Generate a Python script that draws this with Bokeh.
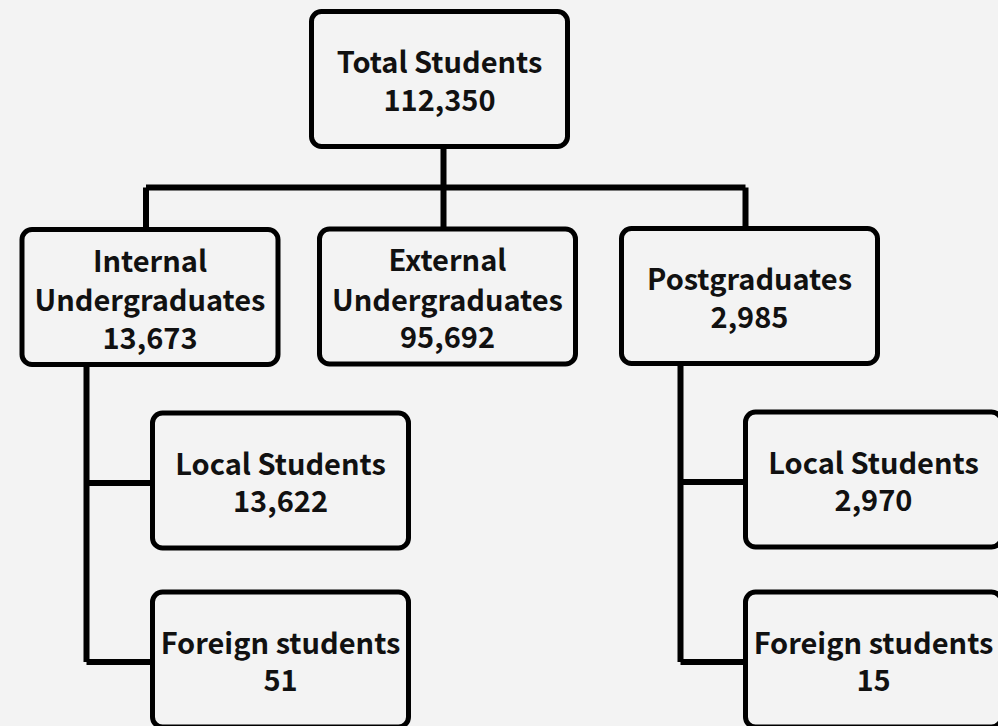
from bokeh.plotting import figure
from bokeh.models import Range1d, ColumnDataSource, GlobalInlineStyleSheet
from bokeh.core.properties import value
from bokeh.embed import file_html
from bokeh.resources import INLINE

# ---------------- data ----------------
node_label_lines = [
    ["Total Students"],
    ["Internal", "Undergraduates"],
    ["External", "Undergraduates"],
    ["Postgraduates"],
    ["Local Students"],
    ["Foreign students"],
    ["Local Students"],
    ["Foreign students"],
]
node_values = [112350, 13673, 95692, 2985, 13622, 51, 2970, 15]
node_parents = [None, 0, 0, 0, 1, 1, 3, 3]

# ---------------- layout (screen px) ----------------
BG = "#f3f3f3"
W, H = 998, 726
BOX_W, BOX_H = 256, 135
node_cx = [439, 149.5, 447, 749, 280, 280, 873, 873]
node_cy = [78.5, 296.5, 296, 295.5, 480, 659, 479, 659]
bus_y = 187
conn_dx = -4          # connector offset for top->level-1 links
side_trunk_x = {1: 86, 3: 680}
branch_dy = 2.5
FONT = "Noto Sans CJK JP"
FS = "29px"
LINE_STEP = 39.5
TEXT_OFF = 1

p = figure(width=W, height=H, output_backend="svg", toolbar_location=None,
           x_range=Range1d(0, W), y_range=Range1d(H, 0),
           min_border=0, background_fill_color=BG, border_fill_color=BG)
p.axis.visible = False
p.grid.visible = False
p.outline_line_color = None
p.stylesheets = [GlobalInlineStyleSheet(css=f"html, body {{ background: {BG}; }}")]

# ---------------- connectors ----------------
xs, ys = [], []
top_children = [i for i, par in enumerate(node_parents) if par == 0]
cx_links = [node_cx[i] + conn_dx for i in top_children]
xs.append([min(cx_links), max(cx_links)]); ys.append([bus_y, bus_y])
root_x = sorted(cx_links)[len(cx_links) // 2]
xs.append([root_x, root_x]); ys.append([node_cy[0] + BOX_H / 2, bus_y])
for i, cx in zip(top_children, cx_links):
    xs.append([cx, cx]); ys.append([bus_y, node_cy[i] - BOX_H / 2])
for par, tx in side_trunk_x.items():
    kids = [i for i, pp in enumerate(node_parents) if pp == par]
    last_y = max(node_cy[k] for k in kids) + branch_dy
    xs.append([tx, tx]); ys.append([node_cy[par] + BOX_H / 2, last_y])
    for k in kids:
        by = node_cy[k] + branch_dy
        xs.append([tx, node_cx[k] - BOX_W / 2]); ys.append([by, by])
p.multi_line(xs, ys, line_color="black", line_width=6, line_cap="butt", line_join="miter")

# ---------------- boxes ----------------
box_src = ColumnDataSource(dict(
    left=[c - BOX_W / 2 for c in node_cx], right=[c + BOX_W / 2 for c in node_cx],
    top=[c - BOX_H / 2 for c in node_cy], bottom=[c + BOX_H / 2 for c in node_cy]))
p.quad(left="left", right="right", top="top", bottom="bottom", source=box_src,
       fill_color=BG, line_color="black", line_width=5, border_radius=10)

# ---------------- texts ----------------
tx_, ty_, tt_ = [], [], []
for i, lines in enumerate(node_label_lines):
    all_lines = lines + [f"{node_values[i]:,}"]
    n = len(all_lines)
    for j, t in enumerate(all_lines):
        tx_.append(node_cx[i])
        ty_.append(node_cy[i] + TEXT_OFF + (j - (n - 1) / 2) * LINE_STEP)
        tt_.append(t)
p.text(x=tx_, y=ty_, text=tt_, text_align="center", text_baseline="alphabetic",
       text_font=value(FONT), text_font_style="bold", text_font_size=FS, text_color="#111111")

open("out.html", "w").write(file_html(p, INLINE))
